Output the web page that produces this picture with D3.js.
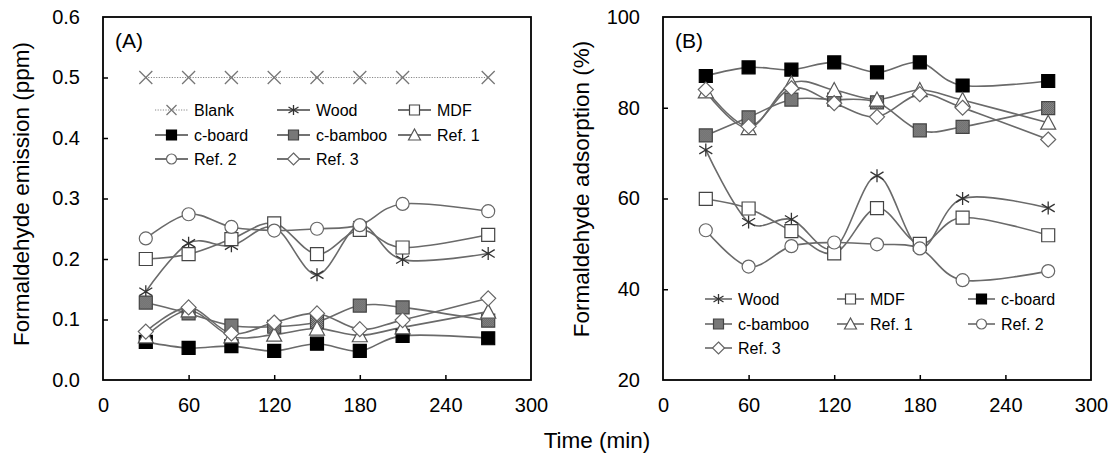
<!DOCTYPE html>
<html>
<head>
<meta charset="utf-8">
<title>Formaldehyde emission and adsorption</title>
<script src="https://cdnjs.cloudflare.com/ajax/libs/d3/7.8.5/d3.min.js"></script>
<style>
	html, body { margin:0; padding:0; background:#fff; }
	svg { display:block; font-family:"Liberation Sans", Arial, sans-serif; }
	.tick text { font-size:20px; fill:#000; }
	.leg text { font-size:16px; fill:#000; }
</style>
</head>
<body>
<svg id="chart" width="1118" height="461"></svg>
<script>
// sampling times (min)
var times = [30, 60, 90, 120, 150, 180, 210, 270];
var xTicks = [0, 60, 120, 180, 240, 300];

// (A) emission, ppm
var blankA   = [0.5, 0.5, 0.5, 0.5, 0.5, 0.5, 0.5, 0.5];
var woodA    = [0.146, 0.226, 0.222, 0.252, 0.174, 0.256, 0.199, 0.209];
var mdfA     = [0.200, 0.208, 0.233, 0.259, 0.208, 0.248, 0.219, 0.240];
var cboardA  = [0.063, 0.053, 0.056, 0.048, 0.060, 0.048, 0.073, 0.069];
var cbambooA = [0.128, 0.110, 0.090, 0.088, 0.096, 0.123, 0.120, 0.098];
var ref1A    = [0.072, 0.115, 0.072, 0.075, 0.085, 0.074, 0.087, 0.113];
var ref2A    = [0.234, 0.274, 0.253, 0.247, 0.250, 0.256, 0.291, 0.279];
var ref3A    = [0.080, 0.120, 0.077, 0.095, 0.110, 0.084, 0.099, 0.135];
var yTicksA  = [0, 0.1, 0.2, 0.3, 0.4, 0.5, 0.6];

// (B) adsorption, %
var woodB    = [70.7, 54.8, 55.4, 49.0, 65.0, 49.2, 60.0, 57.9];
var mdfB     = [59.9, 57.8, 52.8, 47.9, 57.9, 50.0, 55.8, 51.9];
var cboardB  = [87.0, 88.9, 88.4, 90.0, 87.8, 90.0, 84.9, 85.9];
var cbambooB = [73.9, 77.9, 81.8, 81.8, 81.2, 75.0, 75.8, 79.9];
var ref1B    = [83.6, 75.5, 85.4, 83.9, 81.8, 83.9, 81.7, 76.7];
var ref2B    = [53.0, 45.0, 49.5, 50.3, 49.9, 49.0, 42.0, 44.0];
var ref3B    = [84.0, 75.9, 84.3, 81.0, 78.0, 83.0, 80.0, 73.0];
var yTicksB  = [20, 40, 60, 80, 100];

var seriesA = [
	{name:"Blank", values:blankA}, {name:"Wood", values:woodA}, {name:"MDF", values:mdfA},
	{name:"c-board", values:cboardA}, {name:"c-bamboo", values:cbambooA}, {name:"Ref. 1", values:ref1A},
	{name:"Ref. 2", values:ref2A}, {name:"Ref. 3", values:ref3A}
];
var seriesB = [
	{name:"Wood", values:woodB}, {name:"MDF", values:mdfB}, {name:"c-board", values:cboardB},
	{name:"c-bamboo", values:cbambooB}, {name:"Ref. 1", values:ref1B}, {name:"Ref. 2", values:ref2B},
	{name:"Ref. 3", values:ref3B}
];

// marker look per series
var style = {
	"Blank":    {shape:"x",        fill:"none",  stroke:"#777"},
	"Wood":     {shape:"asterisk", fill:"none",  stroke:"#333"},
	"MDF":      {shape:"square",   fill:"#fff",  stroke:"#444"},
	"c-board":  {shape:"square",   fill:"#000",  stroke:"#000"},
	"c-bamboo": {shape:"square",   fill:"url(#checker)", stroke:"#444"},
	"Ref. 1":   {shape:"triangle", fill:"#fff",  stroke:"#555"},
	"Ref. 2":   {shape:"circle",   fill:"#fff",  stroke:"#666"},
	"Ref. 3":   {shape:"diamond",  fill:"#fff",  stroke:"#666"}
};

var svg = d3.select("#chart");

var defs = svg.append("defs");
var pat = defs.append("pattern").attr("id", "checker")
	.attr("width", 2).attr("height", 2).attr("patternUnits", "userSpaceOnUse");
pat.append("rect").attr("width", 2).attr("height", 2).attr("fill", "#9a9a9a");
pat.append("rect").attr("width", 1).attr("height", 1).attr("fill", "#555");
pat.append("rect").attr("x", 1).attr("y", 1).attr("width", 1).attr("height", 1).attr("fill", "#555");

function markerPath(shape, s) {
	var h = s / 2;
	if (shape == "square") return "M" + (-h) + "," + (-h) + "h" + s + "v" + s + "h" + (-s) + "Z";
	if (shape == "diamond") return "M0," + (-h - 1) + "L" + (h + 1) + ",0L0," + (h + 1) + "L" + (-h - 1) + ",0Z";
	if (shape == "triangle") return "M0," + (-h - 1) + "L" + (h + 1) + "," + (h) + "L" + (-h - 1) + "," + (h) + "Z";
	if (shape == "circle") return d3.symbol(d3.symbolCircle, Math.PI * h * h)();
	if (shape == "x") return "M" + (-h) + "," + (-h) + "L" + h + "," + h + "M" + (-h) + "," + h + "L" + h + "," + (-h);
	if (shape == "asterisk") return "M0," + (-h) + "V" + h + "M" + (-h) + "," + (-h * 0.6) + "L" + h + "," + (h * 0.6) +
		"M" + (-h) + "," + (h * 0.6) + "L" + h + "," + (-h * 0.6);
}

function drawMarker(g, name, x, y, s) {
	var st = style[name];
	g.append("path")
		.attr("transform", "translate(" + x + "," + y + ")")
		.attr("d", markerPath(st.shape, s))
		.attr("fill", st.fill)
		.attr("stroke", st.stroke)
		.attr("stroke-width", st.shape == "x" || st.shape == "asterisk" ? 1.3 : 1.2);
}

function panel(opt) {
	var x = d3.scaleLinear().domain([0, 300]).range([opt.left, opt.right]);
	var y = d3.scaleLinear().domain(opt.yDomain).range([380, 17]);
	var g = svg.append("g");

	// axes, ticks pointing inward
	var ax = g.append("g").attr("transform", "translate(0,380)")
		.call(d3.axisBottom(x).tickValues(xTicks).tickSize(-5).tickPadding(18));
	var ay = g.append("g").attr("transform", "translate(" + opt.left + ",0)")
		.call(d3.axisLeft(y).tickValues(opt.yTicks).tickSize(-5).tickPadding(23).tickFormat(opt.fmt));
	[ax, ay].forEach(function(a) {
		a.select(".domain").remove();
		a.selectAll(".tick line").attr("stroke", "#000").attr("stroke-width", 1.5)
			.filter(function(d, i, n) { return i == 0 || i == n.length - 1; }).remove();
	});
	g.append("rect").attr("x", opt.left).attr("y", 17)
		.attr("width", opt.right - opt.left).attr("height", 363)
		.attr("fill", "none").attr("stroke", "#000").attr("stroke-width", 1.8);

	g.append("text").attr("x", opt.left + 12).attr("y", 48).attr("font-size", 21).text(opt.label);

	g.append("text")
		.attr("transform", "translate(" + opt.titleX + "," + opt.titleY + ") rotate(-90)")
		.attr("text-anchor", "middle").attr("font-size", 22.5).text(opt.yTitle);

	var line = d3.line().curve(d3.curveCatmullRom.alpha(0))
		.x(function(d, i) { return x(times[i]); })
		.y(function(d) { return y(d); });

	opt.series.forEach(function(s) {
		var p = g.append("path").attr("d", line(s.values)).attr("fill", "none")
			.attr("stroke", s.name == "Blank" ? "#888" : "#6a6a6a")
			.attr("stroke-width", s.name == "Blank" ? 1 : 1.6);
		if (s.name == "Blank") p.attr("stroke-dasharray", "1.2,1.4");
	});
	opt.series.forEach(function(s) {
		s.values.forEach(function(v, i) {
			drawMarker(g, s.name, x(times[i]), y(v), 13);
		});
	});

	// legend, three columns
	var leg = g.append("g").attr("class", "leg");
	opt.series.forEach(function(s, i) {
		var cx = opt.legCols[i % 3], cy = opt.legRows[Math.floor(i / 3)];
		var l = leg.append("line").attr("x1", cx).attr("x2", cx + opt.legLen)
			.attr("y1", cy).attr("y2", cy)
			.attr("stroke", s.name == "Blank" ? "#888" : "#444")
			.attr("stroke-width", s.name == "Blank" ? 1 : 1.3);
		if (s.name == "Blank") l.attr("stroke-dasharray", "1.2,1.4");
		drawMarker(leg, s.name, cx + opt.legLen / 2, cy, 10);
		leg.append("text").attr("x", cx + opt.legLen + 6).attr("y", cy).attr("dy", "0.36em").text(s.name);
	});
}

panel({
	left:103, right:531, yDomain:[0, 0.6], yTicks:yTicksA, fmt:d3.format(".1f"),
	label:"(A)", yTitle:"Formaldehyde emission (ppm)", titleX:29, titleY:194,
	series:seriesA, legCols:[155, 277, 398], legRows:[110, 135, 159], legLen:33
});
panel({
	left:663, right:1091, yDomain:[20, 100], yTicks:yTicksB, fmt:d3.format("d"),
	label:"(B)", yTitle:"Formaldehyde adsorption (%)", titleX:589, titleY:189,
	series:seriesB, legCols:[705, 837, 968], legRows:[299, 324, 348], legLen:27
});

svg.append("text").attr("x", 597).attr("y", 448).attr("text-anchor", "middle")
	.attr("font-size", 22.5).text("Time (min)");
</script>
</body>
</html>
